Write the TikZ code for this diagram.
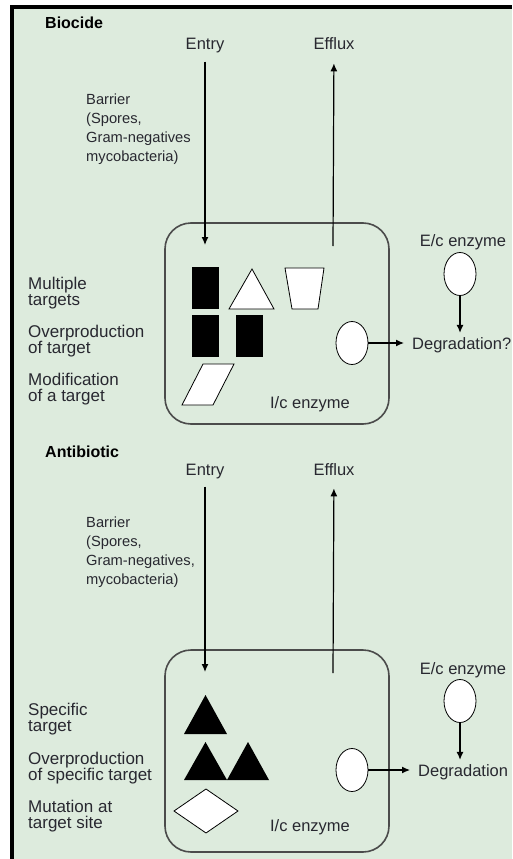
\documentclass[tikz,border=0pt]{standalone}
\usepackage{fontspec}
\setmainfont{Liberation Sans}
\usepackage{xcolor}
\usetikzlibrary{arrows.meta, positioning, shapes}

\definecolor{panelgreen}{RGB}{221,235,221}
\definecolor{cellgray}{RGB}{75,75,75}
\definecolor{inkgray}{RGB}{40,40,48}

\begin{document}
\begin{tikzpicture}[
    x=1pt, y=-1pt,
    >={Latex[length=8pt,width=7pt]},
    heading/.style={font=\bfseries\fontsize{16}{19}\selectfont, anchor=base west, inner sep=0pt},
    tag/.style={font=\fontsize{16.5}{19}\selectfont, text=inkgray, anchor=base, inner sep=0pt},
    side/.style={font=\fontsize{17}{16}\selectfont, text=inkgray, align=left, anchor=north west, inner sep=0pt},
    barrier/.style={font=\fontsize{14.7}{19}\selectfont, text=inkgray, align=left, anchor=north west, inner sep=0pt},
    cell/.style={draw=cellgray, line width=1.6pt, rounded corners=26pt},
    targetbox/.style={fill=black, minimum width=27pt, minimum height=42pt, inner sep=0pt},
    enzyme/.style={ellipse, draw, line width=0.8pt, fill=white, minimum width=32pt, minimum height=43pt, inner sep=0pt},
    outline/.style={draw, line width=0.8pt, fill=white},
    flow/.style={->, line width=1.2pt}
]

\useasboundingbox (0,0) rectangle (512,859);
\fill[panelgreen] (10,5) rectangle (512,859);
\draw[line width=4pt] (11.5,859) -- (11.5,7) -- (512,7);

% Biocide
\node[heading] (biocide) at (45,29) {Biocide};
\node[tag] (entry1) at (205,50) {Entry};
\node[tag] (efflux1) at (334,50) {Efflux};
\node[barrier] (barrier1) at (86,94) {Barrier\\(Spores,\\Gram-negatives\\mycobacteria)};

\draw[cell] (165,223) rectangle (389,424);
\coordinate (in1) at (205,245);
\coordinate (out1) at (333,246);
\draw[flow, shorten <=8pt] (entry1) -- (in1);
\draw[flow, shorten >=13pt] (out1) -- (efflux1);

\node[side] (multi1) at (28,277) {Multiple\\targets};
\node[side] (over1) at (28,325) {Overproduction\\of target};
\node[side] (modif1) at (28,373) {Modification\\of a target};

\node[targetbox] (t1) at (205.5,288) {};
\node[targetbox] (t2) at (205.5,336) {};
\node[targetbox] (t3) at (249.5,336) {};
\draw[outline] (229,309) -- (252,269) -- (274,309) -- cycle;
\draw[outline] (285,268) -- (324,268) -- (318,309) -- (292,309) -- cycle;
\draw[outline] (203,364) -- (234,364) -- (213,405) -- (182,405) -- cycle;

\node[enzyme] (ic1) at (352,343) {};
\node[tag] (iclabel1) at (310,408) {I/c enzyme};
\node[tag] (eclabel1) at (463,246) {E/c enzyme};
\node[enzyme] (ec1) at (460,274) {};
\node[tag, anchor=base west] (degr1) at (412,349) {Degradation?};
\draw[flow, shorten >=8pt] (ic1.east) -- (ic1.east -| degr1.west);
\draw[flow, shorten >=4pt] (ec1.south) -- (ec1.south |- degr1.north);

% Antibiotic
\node[heading] (antibiotic) at (45,457) {Antibiotic};
\node[tag] (entry2) at (205,475) {Entry};
\node[tag] (efflux2) at (334,475) {Efflux};
\node[barrier] (barrier2) at (86,517) {Barrier\\(Spores,\\Gram-negatives,\\mycobacteria)};

\draw[cell] (165,650) rectangle (389,852);
\coordinate (in2) at (205,672);
\coordinate (out2) at (333,673);
\draw[flow, shorten <=8pt] (entry2) -- (in2);
\draw[flow, shorten >=13pt] (out2) -- (efflux2);

\node[side] (spec2) at (28,703) {Specific\\target};
\node[side] (over2) at (28,752) {Overproduction\\of specific target};
\node[side] (mut2) at (28,800) {Mutation at\\target site};

\fill (184,734) -- (205.5,695) -- (227,734) -- cycle;
\fill (184,780) -- (205.5,742) -- (227,780) -- cycle;
\fill (227,780) -- (248,742) -- (269,780) -- cycle;
\draw[outline] (174,811) -- (206,789) -- (238,811) -- (206,833) -- cycle;

\node[enzyme] (ic2) at (352,770) {};
\node[tag] (iclabel2) at (310,831) {I/c enzyme};
\node[tag] (eclabel2) at (463,674) {E/c enzyme};
\node[enzyme] (ec2) at (460,701) {};
\node[tag, anchor=base west] (degr2) at (418,776) {Degradation};
\draw[flow, shorten >=8pt] (ic2.east) -- (ic2.east -| degr2.west);
\draw[flow, shorten >=4pt] (ec2.south) -- (ec2.south |- degr2.north);

\end{tikzpicture}
\end{document}
